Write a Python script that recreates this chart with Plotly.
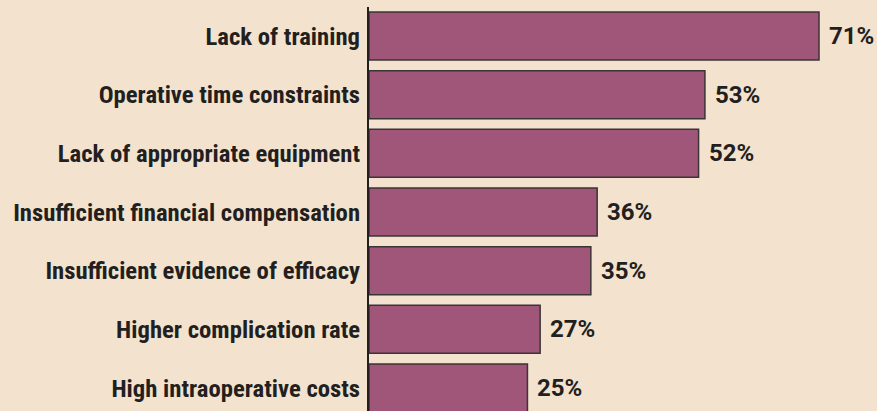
import plotly.graph_objects as go

categories = [
    "Lack of training",
    "Operative time constraints",
    "Lack of appropriate equipment",
    "Insufficient financial compensation",
    "Insufficient evidence of efficacy",
    "Higher complication rate",
    "High intraoperative costs",
]
values = [71, 53, 52, 36, 35, 27, 25]
value_labels = [f"{v}%" for v in values]

BG = "#F3E3CE"
BAR = "#A05678"
EDGE = "#3B3436"
TXT = "#231F20"

fig = go.Figure()
fig.add_trace(go.Bar(
    x=values,
    y=categories,
    orientation="h",
    width=0.818,
    marker=dict(color=BAR, line=dict(color=EDGE, width=1.5)),
    hoverinfo="skip",
))

for c, v, t in zip(categories, values, value_labels):
    fig.add_annotation(
        x=v, y=c, text=f"<b>{t}</b>", showarrow=False,
        xanchor="left", yanchor="middle", xshift=8,
        font=dict(family="Roboto, Liberation Sans, Arial, sans-serif", size=24, color=TXT),
    )

fig.update_layout(
    width=877, height=411,
    margin=dict(l=369, r=0, t=7, b=0),
    paper_bgcolor=BG, plot_bgcolor=BG,
    showlegend=False,
    xaxis=dict(range=[0, 80.15], visible=False, fixedrange=True),
    yaxis=dict(
        type="category",
        categoryorder="array", categoryarray=categories,
        range=[6.392, -0.494],
        showline=True, linewidth=2, linecolor=TXT,
        showgrid=False, zeroline=False,
        ticks="", ticklabelstandoff=2,
        tickfont=dict(family="Roboto Condensed, Open Sans Condensed, sans-serif", size=24.7, color=TXT, weight="bold"),
    ),
)

fig.write_html("out.html")
